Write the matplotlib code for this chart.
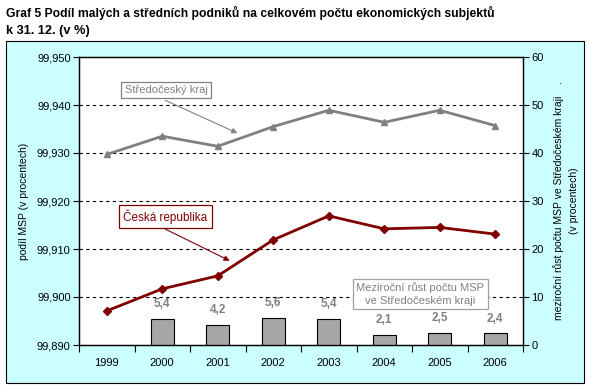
import matplotlib
matplotlib.use("Agg")
import matplotlib.pyplot as plt
from matplotlib.patches import Rectangle

years = ["1999", "2000", "2001", "2002", "2003", "2004", "2005", "2006"]
stredocesky = [99.9297, 99.9335, 99.9314, 99.9355, 99.9389, 99.9364, 99.9389, 99.9357]
cr = [99.8971, 99.9017, 99.9044, 99.9119, 99.9169, 99.9142, 99.9145, 99.9131]
growth = [None, 5.4, 4.2, 5.6, 5.4, 2.1, 2.5, 2.4]
growth_labels = ["", "5,4", "4,2", "5,6", "5,4", "2,1", "2,5", "2,4"]
left_ticks = [99.890, 99.900, 99.910, 99.920, 99.930, 99.940, 99.950]
left_tick_labels = ["99,890", "99,900", "99,910", "99,920", "99,930", "99,940", "99,950"]
right_ticks = [0, 10, 20, 30, 40, 50, 60]

plt.rcParams['font.family'] = ['Liberation Sans', 'DejaVu Sans']

W, H = 590, 388
fig = plt.figure(figsize=(W/100, H/100), dpi=100)
fig.patch.set_facecolor("white")

# outer cyan box
fig.patches.append(Rectangle((6/W, 1-383/H), 578/W, 342/H, transform=fig.transFigure,
                             facecolor="#ccffff", edgecolor="black", linewidth=0.8, zorder=-10))

fig.text(6/W, 1-13/H, "Graf 5 Podíl malých a středních podniků na celkovém počtu ekonomických subjektů",
         fontsize=8.7, fontweight="bold", va="center", ha="left")
fig.text(6/W, 1-31/H, "k 31. 12. (v %)", fontsize=9.2, fontweight="bold", va="center", ha="left")

ax = fig.add_axes([79/W, 1-345/H, 444/W, 288/H])
ax2 = ax.twinx()
ax.set_zorder(ax2.get_zorder() + 1)
ax.patch.set_visible(False)
ax2.patch.set_visible(True)
ax2.set_facecolor("white")

x = list(range(len(years)))
bx = [i for i, g in zip(x, growth) if g is not None]
bv = [g for g in growth if g is not None]
ax2.bar(bx, bv, width=0.42, color="#a6a6a6", edgecolor="black", linewidth=0.8, zorder=3)
for i, g, lab in zip(x, growth, growth_labels):
    if g is not None:
        ax2.text(i, g + 1.8, lab, ha="center", va="bottom", fontsize=8.5, fontweight="bold", color="#808080")
ax2.set_ylim(0, 60)
ax2.set_yticks(right_ticks)
ax2.set_yticklabels([str(t) for t in right_ticks])

ax.plot(x, stredocesky, color="#808080", linewidth=2, marker="^", markersize=5, zorder=4)
ax.plot(x, cr, color="#800000", linewidth=2, marker="D", markersize=4, zorder=4)
ax.set_ylim(99.890, 99.950)
ax.set_yticks(left_ticks)
ax.set_yticklabels(left_tick_labels)
ax.set_xlim(-0.5, len(years) - 0.5)

for t in left_ticks[1:-1]:
    ax.axhline(t, color="black", linestyle=(0, (3, 3)), linewidth=0.8, zorder=1)

# x axis
ax.set_xticks(x)
ax.set_xticklabels(years)
ax.tick_params(axis="x", length=0, pad=9, labelsize=8)
ax.set_xticks([i - 0.5 for i in range(len(years) + 1)], minor=True)
ax.tick_params(axis="x", which="minor", length=5, direction="out", width=0.8)

ax.tick_params(axis="y", labelsize=8, length=4, width=0.8, direction="out", pad=2)
ax2.tick_params(axis="y", labelsize=8, length=4, width=0.8, direction="out", pad=2)

for a in (ax, ax2):
    for s in a.spines.values():
        s.set_linewidth(0.9)
        s.set_color("black")

ax.set_ylabel("podíl MSP (v procentech)", fontsize=7.5, labelpad=6)
ax2.set_ylabel("meziroční růst počtu MSP ve Středočeském kraji    .\n(v procentech)",
               fontsize=7.5, labelpad=7, rotation=90, linespacing=1.6)

# annotations
ax.annotate("", xy=(2.40, 99.9339), xytext=(1.01, 99.9412),
            arrowprops=dict(arrowstyle="-|>", color="#808080", lw=0.8, mutation_scale=8))
ax.text(0.32, 99.9431, "Středočeský kraj", fontsize=8, color="#808080", ha="left", va="center",
        bbox=dict(boxstyle="square,pad=0.3", facecolor="white", edgecolor="#808080", linewidth=0.9))

ax.annotate("", xy=(2.26, 99.9073), xytext=(1.01, 99.9144),
            arrowprops=dict(arrowstyle="-|>", color="#800000", lw=0.8, mutation_scale=8))
ax.text(0.30, 99.9167, "Česká republika", fontsize=8.5, color="#800000", ha="left", va="center",
        bbox=dict(boxstyle="square,pad=0.35", facecolor="white", edgecolor="#800000", linewidth=0.9))

ax.text(5.65, 99.9006, "Meziroční růst počtu MSP\nve Středočeském kraji", fontsize=8, color="#808080",
        ha="center", va="center", linespacing=1.3,
        bbox=dict(boxstyle="square,pad=0.3", facecolor="white", edgecolor="#a0a0a0", linewidth=0.9))

fig.savefig("out.png", dpi=100, facecolor="white")
